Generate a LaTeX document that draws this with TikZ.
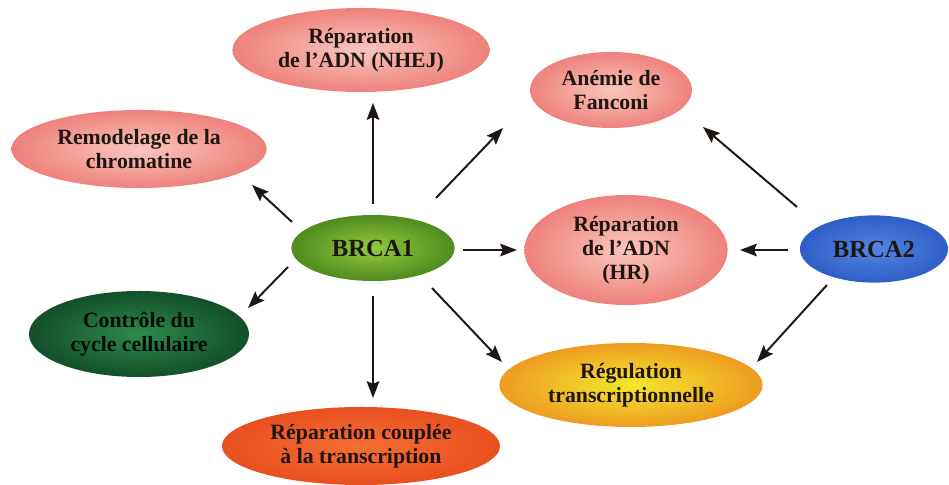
\documentclass[tikz,border=0pt]{standalone}
\usepackage{fontspec}
\setmainfont{Liberation Serif}
\usetikzlibrary{shapes.geometric,arrows.meta,calc}

\definecolor{texte}{HTML}{1E1612}
\definecolor{roseC}{HTML}{FAC6BE}
\definecolor{roseB}{HTML}{EE827B}
\definecolor{vertC}{HTML}{92C83E}
\definecolor{vertB}{HTML}{4F8C1E}
\definecolor{foncC}{HTML}{2E8A4C}
\definecolor{foncB}{HTML}{12502A}
\definecolor{orangeC}{HTML}{F56E34}
\definecolor{orangeB}{HTML}{E9501F}
\definecolor{jauneC}{HTML}{F4E82C}
\definecolor{jauneB}{HTML}{EE9C20}
\definecolor{bleuC}{HTML}{5286E4}
\definecolor{bleuB}{HTML}{2E5EC6}

\begin{document}
\begin{tikzpicture}[x=0.025cm, y=-0.025cm,
    bulle/.style={ellipse, inner sep=0pt, align=center, text=texte,
      font=\fontsize{15.5}{17}\selectfont\bfseries},
    rose/.style={bulle, inner color=roseC, outer color=roseB},
    fleche/.style={-{Stealth[length=12pt,width=9pt,inset=2pt]}, line width=1.4pt, draw=texte}]
  \useasboundingbox (0,0) rectangle (949,485);

  % Les deux g\`enes
  \node[bulle, inner color=vertC, outer color=vertB, minimum width=4.08cm, minimum height=1.65cm,
    font=\fontsize{17.5}{19}\selectfont\bfseries] (brca1) at (373,248) {BRCA1};
  \node[bulle, inner color=bleuC, outer color=bleuB, minimum width=3.7cm, minimum height=1.68cm,
    font=\fontsize{17.5}{19}\selectfont\bfseries] (brca2) at (874,249) {BRCA2};

  % Fonctions
  \node[rose, minimum width=6.43cm, minimum height=2.1cm] (nhej) at (361,50) {R\'eparation\\de l'ADN (NHEJ)};
  \node[rose, minimum width=4.05cm, minimum height=1.9cm] (fanc) at (611,90) {An\'emie de\\Fanconi};
  \node[rose, minimum width=6.38cm, minimum height=1.95cm] (remod) at (139,149) {Remodelage de la\\chromatine};
  \node[rose, minimum width=5.08cm, minimum height=2.75cm] (hr) at (626,250) {R\'eparation\\de l'ADN\\(HR)};
  \node[bulle, inner color=foncC, outer color=foncB, text=black!85!foncB,
    minimum width=5.5cm, minimum height=2.15cm] (ctrl) at (139,334) {Contr\^ole du\\cycle cellulaire};
  \node[bulle, inner color=orangeC, outer color=orangeB, minimum width=6.95cm, minimum height=1.95cm]
    (coupl) at (361,446) {R\'eparation coupl\'ee\\\`a la transcription};
  \node[bulle, inner color=jauneC, outer color=jauneB, minimum width=6.58cm, minimum height=2.1cm]
    (regul) at (631,385) {R\'egulation\\transcriptionnelle};

  % Fl\`eches depuis BRCA1
  \draw[fleche] ($(brca1)+(0,-44)$) -- ($(nhej)+(12,53)$);
  \draw[fleche] ($(brca1)+(-81,-26)$) -- ($(remod)+(113,36)$);
  \draw[fleche] ($(brca1)+(63,-50)$) -- ($(fanc)+(-108,38)$);
  \draw[fleche] ($(brca1)+(90,2)$) -- ($(hr)+(-109,0)$);
  \draw[fleche] ($(brca1)+(-85,19)$) -- ($(ctrl)+(109,-26)$);
  \draw[fleche] ($(brca1)+(0,48)$) -- ($(coupl)+(12,-48)$);
  \draw[fleche] ($(brca1)+(59,40)$) -- ($(regul)+(-129,-23)$);

  % Fl\`eches depuis BRCA2
  \draw[fleche] ($(brca2)+(-77,-42)$) -- ($(fanc)+(92,37)$);
  \draw[fleche] ($(brca2)+(-86,1)$) -- ($(hr)+(114,0)$);
  \draw[fleche] ($(brca2)+(-47,36)$) -- ($(regul)+(126,-23)$);
\end{tikzpicture}
\end{document}
